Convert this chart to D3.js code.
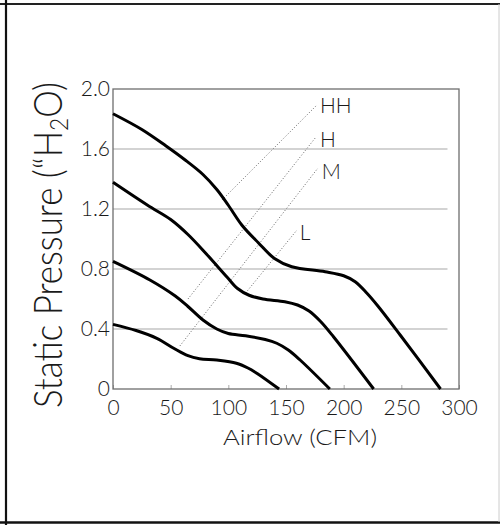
<!DOCTYPE html>
<html lang="en">
	<head>
		<meta charset="utf-8">
		<title>Fan curve: static pressure vs airflow</title>
		<script type="text/javascript" src="https://cdn.jsdelivr.net/npm/d3@7"></script>
		<style type="text/css">
			body { margin: 0; background: #fff; }
			text { font-family: Lato, "DejaVu Sans", sans-serif; font-weight: 300; fill: #1a1a1a; }
		</style>
	</head>
	<body>
		<script type="text/javascript">

			//Width and height
			var w = 500;
			var h = 525;

			//Curve data, airflow (CFM) vs static pressure ("H2O), one pair of arrays per speed
			var hhFlow  = [0, 25, 46, 62, 78, 90, 100, 112, 126, 140, 155, 184, 200, 210, 220, 230, 249, 284];
			var hhPress = [1.835, 1.73, 1.62, 1.53, 1.43, 1.33, 1.225, 1.09, 0.975, 0.87, 0.815, 0.782, 0.755, 0.715, 0.64, 0.55, 0.36, 0];

			var hFlow  = [0, 30, 50, 65, 81, 99, 108, 118, 130, 149, 160, 170, 180, 191, 226];
			var hPress = [1.378, 1.225, 1.13, 1.03, 0.9, 0.745, 0.67, 0.625, 0.6, 0.582, 0.56, 0.52, 0.45, 0.35, 0];

			var mFlow  = [0, 32, 54, 65, 78, 90, 100, 115, 132, 142, 152, 162, 188];
			var mPress = [0.851, 0.727, 0.62, 0.55, 0.46, 0.4, 0.37, 0.355, 0.33, 0.305, 0.26, 0.195, 0];

			var lFlow  = [0, 20, 38, 53, 65, 75, 90, 107, 117, 125, 144];
			var lPress = [0.431, 0.39, 0.338, 0.27, 0.222, 0.202, 0.193, 0.172, 0.14, 0.104, 0];

			//Speed labels and their dotted leader lines (data units)
			var speedNames = ["HH", "H", "M", "L"];
			var leadStartFlow  = [94.5, 65, 58, 115];
			var leadStartPress = [1.26, 0.6, 0.287, 0.64];
			var leadEndFlow    = [176, 176, 177.7, 159.5];
			var leadEndPress   = [1.887, 1.68, 1.473, 1.06];
			var labelFlow  = [179.5, 179.5, 181, 162];
			var labelPress = [1.838, 1.615, 1.4, 0.993];

			//Tick values
			var xTicks = [0, 50, 100, 150, 200, 250, 300];
			var yTicks = [0, 0.4, 0.8, 1.2, 1.6, 2.0];
			var yGrid  = [0.4, 0.8, 1.2, 1.6];

			var xScale = d3.scaleLinear()
							.domain([0, 300])
							.range([113, 459]);

			var yScale = d3.scaleLinear()
							.domain([0, 2])
							.range([389, 89]);

			//Create SVG element
			var svg = d3.select("body")
						.append("svg")
						.attr("width", w)
						.attr("height", h);

			//Outer box of the picture
			svg.append("line").attr("x1", 0).attr("x2", w).attr("y1", 4).attr("y2", 4)
			   .attr("stroke", "#222").attr("stroke-width", 2);
			svg.append("line").attr("x1", 6).attr("x2", 6).attr("y1", 0).attr("y2", h)
			   .attr("stroke", "#111").attr("stroke-width", 2.2);
			svg.append("line").attr("x1", 0).attr("x2", w).attr("y1", 522.5).attr("y2", 522.5)
			   .attr("stroke", "#111").attr("stroke-width", 2.5);
			svg.append("line").attr("x1", 499).attr("x2", 499).attr("y1", 4).attr("y2", 522)
			   .attr("stroke", "#ccc").attr("stroke-width", 1);

			//Grid lines
			svg.selectAll("line.grid")
			   .data(yGrid)
			   .enter()
			   .append("line")
			   .attr("class", "grid")
			   .attr("x1", xScale(0))
			   .attr("x2", xScale(290))
			   .attr("y1", function(d) { return yScale(d); })
			   .attr("y2", function(d) { return yScale(d); })
			   .attr("stroke", "#c4c4c4")
			   .attr("stroke-width", 1.5);

			//Axes
			var xAxis = d3.axisBottom(xScale)
						  .tickValues(xTicks)
						  .tickSize(-4)
						  .tickPadding(11)
						  .tickFormat(d3.format("d"));

			var yAxis = d3.axisLeft(yScale)
						  .tickValues(yTicks)
						  .tickSize(0)
						  .tickPadding(3)
						  .tickFormat(function(d) { return d === 0 ? "0" : d3.format(".1f")(d); });

			var gx = svg.append("g")
						.attr("transform", "translate(0," + yScale(0) + ")")
						.call(xAxis);
			gx.select(".domain").remove();
			gx.selectAll(".tick line").attr("stroke", "#aaa");
			gx.selectAll("text").attr("font-size", "21px").attr("fill", "#1a1a1a").attr("font-family", null);

			var gy = svg.append("g")
						.attr("transform", "translate(" + xScale(0) + ",0)")
						.call(yAxis);
			gy.select(".domain").remove();
			gy.selectAll("text").attr("font-size", "21px").attr("fill", "#1a1a1a").attr("font-family", null);

			//Plot frame
			svg.append("rect")
			   .attr("x", xScale(0))
			   .attr("y", yScale(2))
			   .attr("width", xScale(300) - xScale(0))
			   .attr("height", yScale(0) - yScale(2))
			   .attr("fill", "none")
			   .attr("stroke", "#6e6e6e")
			   .attr("stroke-width", 1.3);

			//Dotted leader lines
			svg.selectAll("line.lead")
			   .data(speedNames)
			   .enter()
			   .append("line")
			   .attr("class", "lead")
			   .attr("x1", function(d, i) { return xScale(leadStartFlow[i]); })
			   .attr("y1", function(d, i) { return yScale(leadStartPress[i]); })
			   .attr("x2", function(d, i) { return xScale(leadEndFlow[i]); })
			   .attr("y2", function(d, i) { return yScale(leadEndPress[i]); })
			   .attr("stroke", "#666")
			   .attr("stroke-width", 1)
			   .attr("stroke-dasharray", "1,2");

			//Speed labels
			svg.selectAll("text.speed")
			   .data(speedNames)
			   .enter()
			   .append("text")
			   .attr("class", "speed")
			   .attr("x", function(d, i) { return xScale(labelFlow[i]); })
			   .attr("y", function(d, i) { return yScale(labelPress[i]); })
			   .attr("font-size", "21px")
			   .text(function(d) { return d; });

			//Curves
			var curves = [
				[hhFlow, hhPress],
				[hFlow, hPress],
				[mFlow, mPress],
				[lFlow, lPress]
			];

			var line = d3.line()
						 .x(function(d) { return xScale(d[0]); })
						 .y(function(d) { return yScale(d[1]); })
						 .curve(d3.curveCatmullRom.alpha(0.5));

			svg.selectAll("path.fan")
			   .data(curves)
			   .enter()
			   .append("path")
			   .attr("class", "fan")
			   .attr("d", function(c) {
			   		return line(c[0].map(function(f, i) { return [f, c[1][i]]; }));
			   })
			   .attr("fill", "none")
			   .attr("stroke", "#000")
			   .attr("stroke-width", 3)
			   .attr("stroke-linejoin", "round");

			//Axis titles
			svg.append("text")
			   .attr("x", 300)
			   .attr("y", 445)
			   .attr("text-anchor", "middle")
			   .attr("font-size", "21px")
			   .attr("textLength", 154)
			   .attr("lengthAdjust", "spacingAndGlyphs")
			   .text("Airflow (CFM)");

			var yTitle = svg.append("text")
			   .attr("transform", "translate(62,245) rotate(-90)")
			   .attr("text-anchor", "middle")
			   .attr("font-size", "40px")
			   .attr("textLength", 326)
			   .attr("lengthAdjust", "spacingAndGlyphs");
			yTitle.append("tspan").text("Static Pressure (\u201CH");
			yTitle.append("tspan").attr("font-size", "26px").attr("dy", 6).text("2");
			yTitle.append("tspan").attr("dy", -6).text("O)");

		</script>
	</body>
</html>
